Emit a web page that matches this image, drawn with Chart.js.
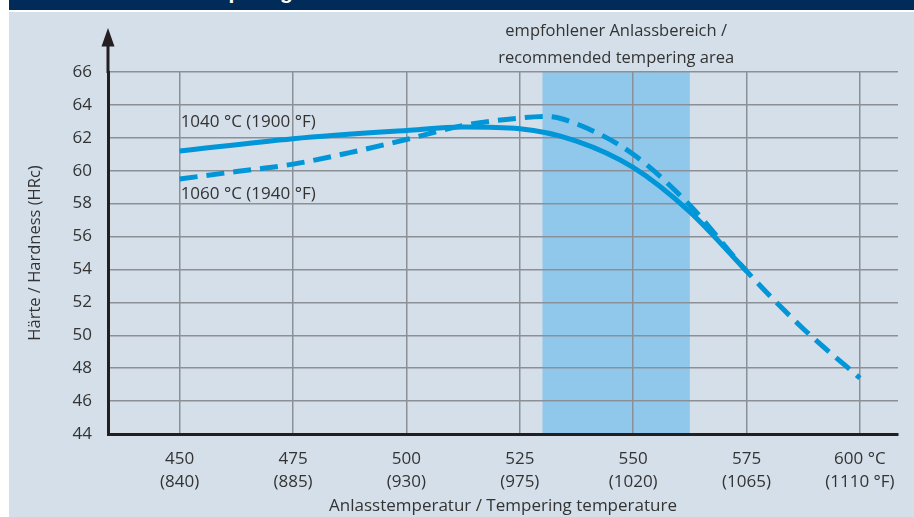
<!DOCTYPE html>
<html>
<head>
<meta charset="utf-8">
<script src="https://cdn.jsdelivr.net/npm/chart.js@4.4.1/dist/chart.umd.min.js"></script>
<style>
  html, body { margin: 0; padding: 0; background: #fff; }
  #wrap { position: relative; width: 914px; height: 517px; overflow: hidden; }
  #bg { position: absolute; left: 9px; top: 12px; right: 0; bottom: 0; background: #d4dfe9; }
  #bar { position: absolute; left: 9px; top: 0; right: 0; height: 10px; background: #012b58; overflow: hidden; }
  #bar span { position: absolute; left: 178px; top: -18px; font: bold 21px/20px 'Liberation Sans', sans-serif; color: #fff; white-space: nowrap; }
  canvas { position: absolute; left: 0; top: 0; }
</style>
</head>
<body>
<div id="wrap">
  <div id="bg"></div>
  <div id="bar"><span>Tempering</span></div>
  <canvas id="chart" width="914" height="517"></canvas>
</div>
<script>
const tickTemps = [450, 475, 500, 525, 550, 575, 600];
const tickLabelsC = ['450', '475', '500', '525', '550', '575', '600 °C'];
const tickLabelsF = ['(840)', '(885)', '(930)', '(975)', '(1020)', '(1065)', '(1110 °F)'];

const temps1040 = [450, 475, 500, 512.5, 525, 537.5, 550, 562.5, 575];
const hard1040 = [61.2, 61.95, 62.45, 62.65, 62.55, 61.8, 60.2, 57.5, 53.9];

const temps1060 = [450, 462.5, 475, 487.5, 500, 512.5, 525, 531, 537.5, 550, 562.5, 575, 587.5, 600];
const hard1060 = [59.5, 59.95, 60.4, 61.1, 61.9, 62.75, 63.2, 63.3, 62.85, 61.0, 57.9, 53.9, 50.4, 47.4];

const recommendedRange = [530, 562.5];

const FONT = "'Open Sans', 'Liberation Sans', sans-serif";
const TEXT = '#333333';
const BLUE = '#0096d8';

const toPoints = (xs, ys) => xs.map((x, i) => ({ x: x, y: ys[i] }));

const extras = {
    id: 'extras',
    beforeDraw(chart) {
        const { ctx, chartArea, scales: { x } } = chart;
        const x1 = x.getPixelForValue(recommendedRange[0]);
        const x2 = x.getPixelForValue(recommendedRange[1]);
        ctx.save();
        ctx.fillStyle = '#90c8ec';
        ctx.fillRect(x1, chartArea.top, x2 - x1, chartArea.bottom - chartArea.top);
        ctx.restore();
    },
    afterDraw(chart) {
        const { ctx, chartArea, scales: { x, y } } = chart;
        const ax = chartArea.left;
        ctx.save();
        // Achse nach oben verlängern + Pfeil
        ctx.strokeStyle = '#231f20';
        ctx.lineWidth = 3;
        ctx.beginPath();
        ctx.moveTo(ax, chartArea.top + 1);
        ctx.lineTo(ax, 44);
        ctx.stroke();
        ctx.fillStyle = '#231f20';
        ctx.beginPath();
        ctx.moveTo(ax, 28);
        ctx.lineTo(ax - 6.5, 46.5);
        ctx.lineTo(ax + 6.5, 46.5);
        ctx.closePath();
        ctx.fill();

        ctx.fillStyle = TEXT;
        ctx.font = '16.5px ' + FONT;
        ctx.textBaseline = 'middle';
        ctx.textAlign = 'center';
        const cx = (x.getPixelForValue(recommendedRange[0]) + x.getPixelForValue(recommendedRange[1])) / 2;
        ctx.fillText('empfohlener Anlassbereich /', cx, chartArea.top - 40.5);
        ctx.fillText('recommended tempering area', cx, chartArea.top - 14);

        ctx.font = '17px ' + FONT;
        ctx.textAlign = 'left';
        const lx = x.getPixelForValue(450) + 1;
        ctx.fillText('1040 °C (1900 °F)', lx, y.getPixelForValue(62.93));
        ctx.fillText('1060 °C (1940 °F)', lx, y.getPixelForValue(58.55));
        ctx.restore();
    }
};

new Chart(document.getElementById('chart'), {
    type: 'line',
    data: {
        datasets: [{
            label: '1040 °C (1900 °F)',
            data: toPoints(temps1040, hard1040),
            borderColor: BLUE,
            borderWidth: 5,
            pointRadius: 0,
            cubicInterpolationMode: 'monotone',
            fill: false
        }, {
            label: '1060 °C (1940 °F)',
            data: toPoints(temps1060, hard1060),
            borderColor: BLUE,
            borderWidth: 5,
            borderDash: [18, 9],
            pointRadius: 0,
            cubicInterpolationMode: 'monotone',
            fill: false
        }]
    },
    options: {
        responsive: false,
        animation: false,
        layout: { padding: { left: 0, right: 16, top: 72, bottom: 0 } },
        plugins: {
            legend: { display: false },
            tooltip: { enabled: false }
        },
        scales: {
            x: {
                type: 'linear',
                min: 434.2,
                max: 608.4,
                afterBuildTicks: (scale) => {
                    scale.ticks = tickTemps.map(v => ({ value: v }));
                },
                afterFit: (scale) => { scale.height = 83; },
                grid: { color: '#8b9097', lineWidth: 1.5, drawTicks: false },
                border: { color: '#231f20', width: 3 },
                ticks: {
                    padding: 13,
                    maxRotation: 0,
                    autoSkip: false,
                    color: TEXT,
                    font: { family: FONT, size: 17, lineHeight: 1.38 },
                    callback: (v) => {
                        const i = tickTemps.indexOf(v);
                        return i < 0 ? '' : [tickLabelsC[i], tickLabelsF[i]];
                    }
                },
                title: {
                    display: true,
                    text: 'Anlasstemperatur / Tempering temperature',
                    color: TEXT,
                    font: { family: FONT, size: 17, lineHeight: 1 },
                    padding: { top: 0, bottom: 2 }
                }
            },
            y: {
                min: 44,
                max: 66,
                afterFit: (scale) => { scale.width = 108; },
                grid: { color: '#8b9097', lineWidth: 1.5, drawTicks: false },
                border: { color: '#231f20', width: 3 },
                ticks: {
                    stepSize: 2,
                    padding: 16,
                    color: TEXT,
                    font: { family: FONT, size: 17 }
                },
                title: {
                    display: true,
                    text: 'Härte / Hardness (HRc)',
                    color: TEXT,
                    font: { family: FONT, size: 16.5, lineHeight: 1 },
                    padding: { top: 27, bottom: 0 }
                }
            }
        }
    },
    plugins: [extras]
});
</script>
</body>
</html>
